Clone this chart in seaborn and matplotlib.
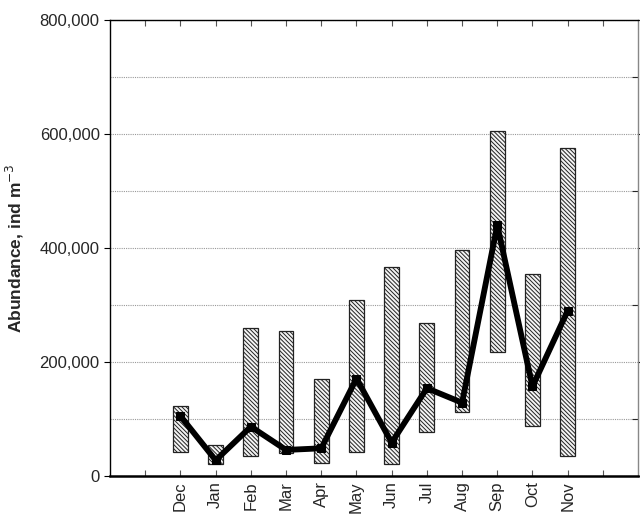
import numpy as np
import pandas as pd
import matplotlib
matplotlib.use("Agg")
import matplotlib.pyplot as plt
import seaborn as sns
from matplotlib.ticker import FuncFormatter, MultipleLocator

months = ["Dec", "Jan", "Feb", "Mar", "Apr", "May", "Jun", "Jul", "Aug", "Sep", "Oct", "Nov"]
range_min = [41500, 20500, 34500, 40000, 23000, 41500, 20500, 76700, 111800, 217000, 88000, 34500]
range_max = [123000, 54000, 260000, 254000, 170000, 309000, 366000, 269000, 396000, 606000, 354000, 575000]
mean_vals = [105000, 27500, 86500, 45600, 48500, 171000, 58500, 154000, 128600, 440000, 157000, 290000]

sns.set_theme(style="white")
plt.rcParams["font.family"] = ["Liberation Sans", "DejaVu Sans"]
plt.rcParams["hatch.linewidth"] = 0.7
plt.rcParams["hatch.color"] = "#333333"

df = pd.DataFrame({"month": months, "lo": range_min, "hi": range_max, "mean": mean_vals})
df["pos"] = np.arange(len(months))

fig = plt.figure(figsize=(6.4, 5.19), dpi=100)
ax = fig.add_axes([0.172, 0.083, 0.825, 0.878])

# min-max range bars
ax.bar(df["pos"], df["hi"] - df["lo"], bottom=df["lo"], width=0.42,
       color="#f4f4f4", edgecolor="#222222", linewidth=0.9, hatch="\\" * 8, zorder=2)

# mean line
sns.lineplot(data=df, x="pos", y="mean", ax=ax, color="black", linewidth=4.2,
             marker="s", markersize=6, markeredgecolor="black", zorder=3)

ax.set_xlim(-2, 13)
ax.set_ylim(0, 800000)
ax.set_xticks(np.arange(-1, 13))
ax.set_xticklabels([""] + months + [""], rotation=90, fontsize=12)
ax.yaxis.set_major_locator(MultipleLocator(200000))
ax.yaxis.set_minor_locator(MultipleLocator(100000))
ax.yaxis.set_major_formatter(FuncFormatter(lambda v, p: f"{int(v):,}"))
ax.tick_params(axis="y", which="major", labelsize=12, direction="out", length=4,
               width=0.8, color="black", left=True, right=True)
ax.tick_params(axis="y", which="minor", left=False, right=True, direction="in", length=4, width=0.8)
ax.tick_params(axis="x", direction="in", length=4, width=0.8, bottom=True, top=True,
               color="#555555", pad=4)
ax.grid(True, axis="y", which="both", linestyle=(0, (1, 1)), color="#999999", linewidth=0.8, zorder=0)
ax.set_axisbelow(True)

ax.set_xlabel("")
ax.set_ylabel("Abundance, ind m$^{-3}$", fontsize=12.5, fontweight="bold", labelpad=10)

for side in ["left", "top"]:
    ax.spines[side].set_color("black")
    ax.spines[side].set_linewidth(1.0)
ax.spines["bottom"].set_color("black")
ax.spines["bottom"].set_linewidth(1.8)
ax.spines["right"].set_color("#888888")
ax.spines["right"].set_linewidth(1.0)

fig.savefig("out.png", dpi=100)
